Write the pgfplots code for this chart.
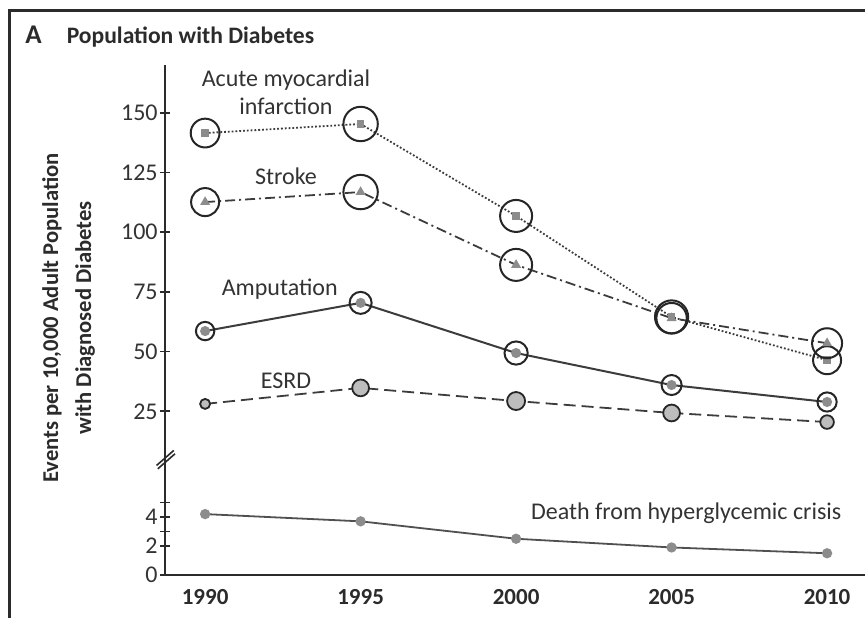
\documentclass[border=0pt]{standalone}
\usepackage{pgfplots}
\pgfplotsset{compat=1.18}
\usepackage{pgfplotstable}
\usepackage{fontspec}
\setmainfont{Carlito}
\definecolor{ink}{HTML}{2B2B2B}
\definecolor{txt}{HTML}{333333}
\definecolor{lin}{HTML}{3C3C3C}
\definecolor{mk}{HTML}{8C8C8C}
\definecolor{ringc}{HTML}{262626}
\definecolor{esrdfill}{HTML}{BDBDBD}

\pgfplotstableread{
x y
1990 141.5
1995 145.3
2000 106.8
2005 64.5
2010 46.4
}\ami
\pgfplotstableread{
x y
1990 112.6
1995 116.8
2000 86.3
2005 64.0
2010 53.5
}\stroke
\pgfplotstableread{
x y
1990 58.6
1995 70.4
2000 49.4
2005 36.0
2010 28.9
}\amput
\pgfplotstableread{
x y
1990 28.1
1995 34.8
2000 29.3
2005 24.3
2010 20.5
}\esrd
\pgfplotstableread{
x y
1990 4.2
1995 3.7
2000 2.5
2005 1.9
2010 1.5
}\death

% ring around a data point: year, value, radius (pt)
\newcommand\ring[3]{\addplot[only marks, mark=o, mark size=#3pt, mark options={line width=1pt, draw=ringc}] coordinates {(#1,#2)};}
\newcommand\ringfilled[3]{\addplot[only marks, mark=*, mark size=#3pt, mark options={line width=0.9pt, draw=ringc, fill=esrdfill}] coordinates {(#1,#2)};}

\pgfplotsset{
  base/.style={scale only axis, width=350pt,
    xmin=1988.71, xmax=2011.22,
    tick align=outside, major tick length=5pt,
    tick style={line width=0.9pt, color=ink},
    /pgf/number format/assume math mode=true,
    tick label style={font=\fontsize{12}{14}\selectfont, text=txt},
    yticklabel style={inner sep=1pt},
    clip=false},
}
\tikzset{lab/.style={text=txt, font=\fontsize{12}{14}\selectfont, align=center}}

\begin{document}
\begin{tikzpicture}
\useasboundingbox (0pt,0pt) rectangle (432.5pt,309pt);
% frame
\draw[line width=1.25pt, color=ink] (4.75pt,0pt) -- (4.75pt,303.75pt) -- (432.5pt,303.75pt);
% title
\node[anchor=base west, inner sep=0pt, text=ink, font=\bfseries\fontsize{11.8}{14}\selectfont] at (12.5pt,287.3pt) {{\fontsize{13.5}{14}\selectfont A}\hspace{12.5pt}Population with Diabetes};
% y label
\node[rotate=90, align=center, text=ink, font=\bfseries\fontsize{11.3}{16.5}\selectfont] at (34.25pt,150pt) {Events per 10,000 Adult Population\\with Diagnosed Diabetes};

% upper axis
\begin{axis}[base, at={(82.5pt,78pt)}, anchor=south west, height=198.5pt,
  axis x line=none, axis y line=left,
  axis line style={-, line width=1pt, color=ink},
  ymin=3.77, ymax=170,
  ytick={25,50,75,100,125,150}]
  % AMI
  \addplot[densely dotted, line width=0.9pt, color=lin,
    mark=square*, mark size=1.4pt, mark options={solid, fill=mk, draw=mk}] table[x=x,y=y] {\ami};
  \ring{1990}{141.5}{7.2}
  \ring{1995}{145.3}{8.6}
  \ring{2000}{106.8}{8.0}
  \ring{2005}{64.5}{8.3}
  \ring{2010}{46.4}{7.0}
  % Stroke
  \addplot[dash pattern=on 5pt off 2pt on 1pt off 2pt, line width=0.9pt, color=lin,
    mark=triangle*, mark size=2pt, mark options={solid, fill=mk, draw=mk}] table[x=x,y=y] {\stroke};
  \ring{1990}{112.6}{7.0}
  \ring{1995}{116.8}{8.6}
  \ring{2000}{86.3}{8.0}
  \ring{2005}{64.0}{7.6}
  \ring{2010}{53.5}{7.5}
  % Amputation
  \addplot[solid, line width=1pt, color=lin,
    mark=*, mark size=2pt, mark options={fill=mk, draw=mk}] table[x=x,y=y] {\amput};
  \ring{1990}{58.6}{4.6}
  \ring{1995}{70.4}{5.5}
  \ring{2000}{49.4}{5.8}
  \ring{2005}{36.0}{5.0}
  \ring{2010}{28.9}{4.8}
  % ESRD
  \addplot[dash pattern=on 6pt off 3pt, line width=0.9pt, color=lin] table[x=x,y=y] {\esrd};
  \ringfilled{1990}{28.1}{2.5}
  \ringfilled{1995}{34.8}{4.2}
  \ringfilled{2000}{29.3}{4.5}
  \ringfilled{2005}{24.3}{4.2}
  \ringfilled{2010}{20.5}{3.4}
  % labels
  \node[lab] at (axis cs:1992.6,158.4) {Acute myocardial\\infarction};
  \node[lab] at (axis cs:1992.6,123.5) {Stroke};
  \node[lab] at (axis cs:1992.4,76.2) {Amputation};
  \node[lab] at (axis cs:1992.6,37.6) {ESRD};
\end{axis}

% lower axis
\begin{axis}[base, at={(82.5pt,21.5pt)}, anchor=south west, height=56.5pt,
  axis lines=left,
  axis line style={-, line width=1pt, color=ink},
  ymin=0, ymax=7.79,
  ytick={0,2,3,4,5}, yticklabels={0,2,,4,},
  xtick={1990,1995,2000,2005,2010},
  xticklabels={1990,1995,2000,2005,2010},
  xtick style={draw=none},
  xticklabel style={font=\bfseries\fontsize{11.5}{13}\selectfont, text=ink, yshift=-1pt}]
  \addplot[solid, line width=0.9pt, color=lin!90,
    mark=*, mark size=2.1pt, mark options={fill=mk, draw=mk}] table[x=x,y=y] {\death};
  \node[lab] at (axis cs:2005.47,4.28) {Death from hyperglycemic crisis};
\end{axis}

% axis break marks
\draw[line width=0.8pt, color=ink] (78.3pt,76.3pt) -- (86.9pt,83.8pt);
\draw[line width=0.8pt, color=ink] (78.9pt,74.6pt) -- (87.5pt,82.1pt);
\end{tikzpicture}
\end{document}
